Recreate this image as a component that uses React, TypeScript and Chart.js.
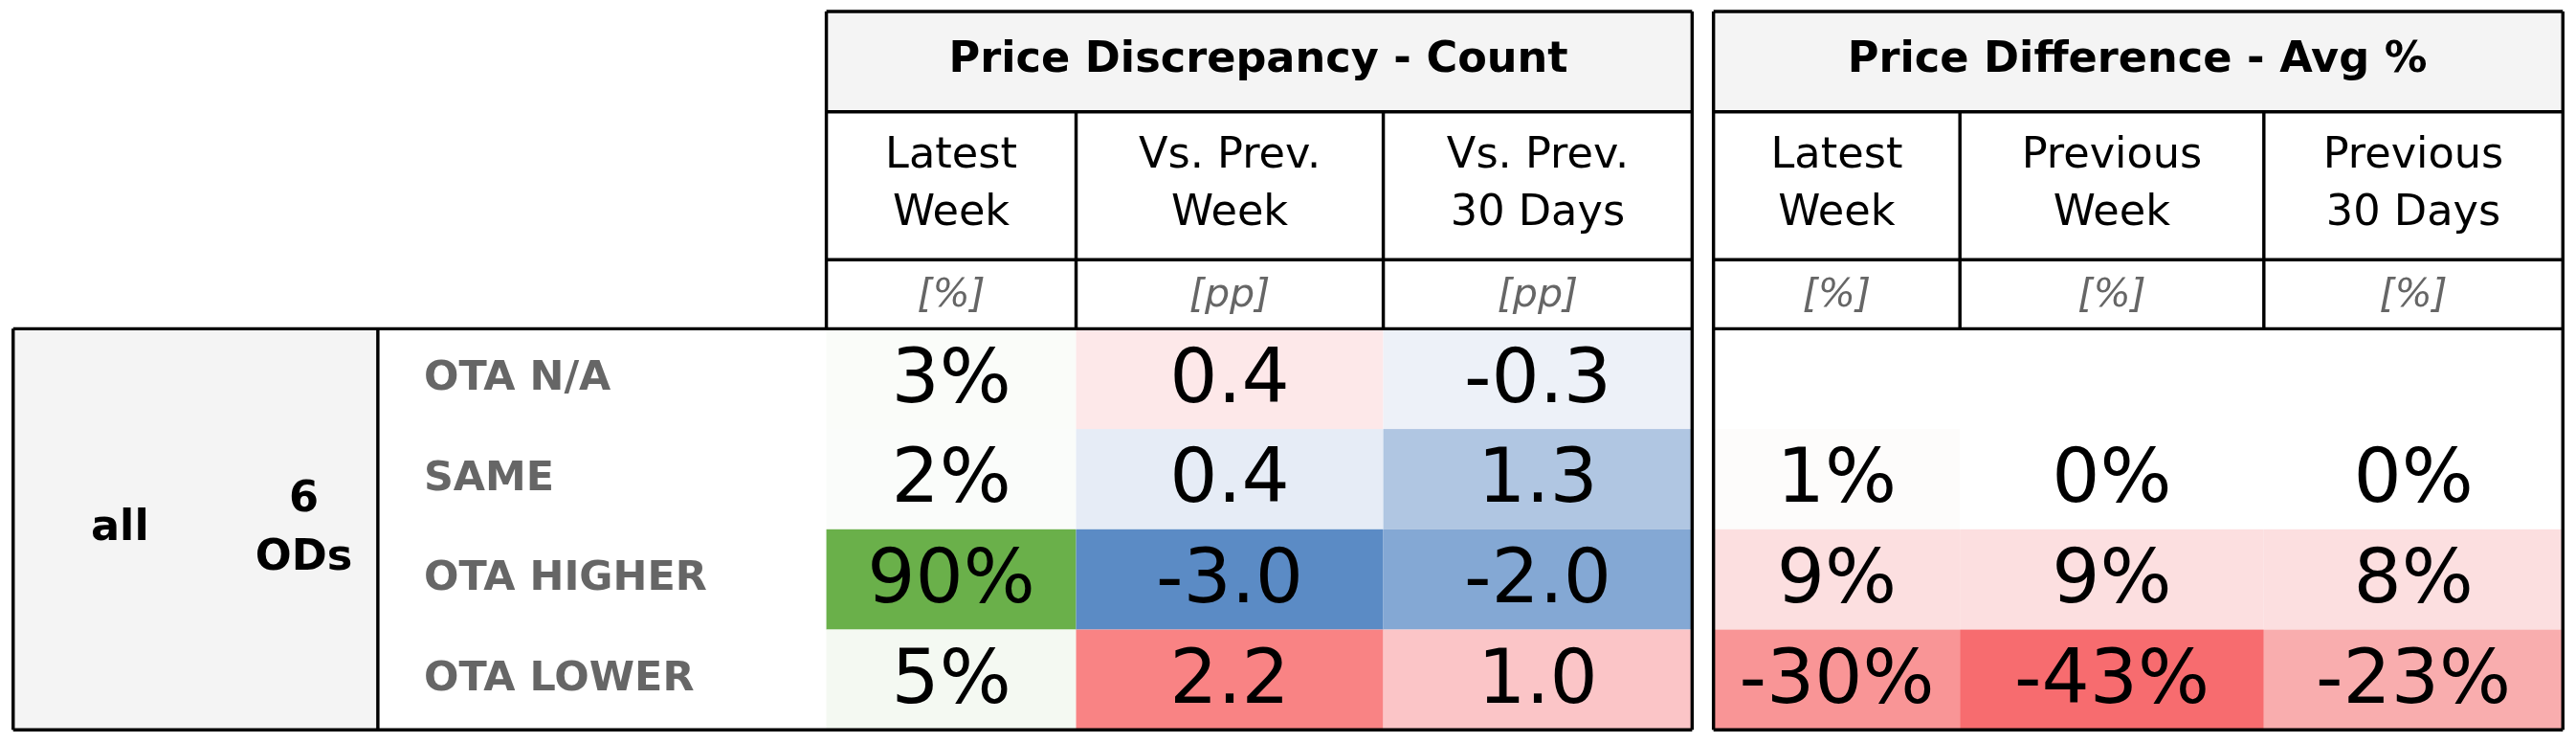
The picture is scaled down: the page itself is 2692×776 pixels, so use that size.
import { useEffect, useRef } from 'react';
import { Chart, registerables } from 'chart.js';

Chart.register(...registerables);

// data
const rowLabels = ['OTA N/A', 'SAME', 'OTA HIGHER', 'OTA LOWER'];
const countLatest = ['3%', '2%', '90%', '5%'];
const countVsPrevWeek = ['0.4', '0.4', '-3.0', '2.2'];
const countVsPrev30 = ['-0.3', '1.3', '-2.0', '1.0'];
const diffLatest = ['', '1%', '9%', '-30%'];
const diffPrevWeek = ['', '0%', '9%', '-43%'];
const diffPrev30 = ['', '0%', '8%', '-23%'];
const countHeaders = [['Latest', 'Week'], ['Vs. Prev.', 'Week'], ['Vs. Prev.', '30 Days']];
const diffHeaders = [['Latest', 'Week'], ['Previous', 'Week'], ['Previous', '30 Days']];
const countUnits = ['[%]', '[pp]', '[pp]'];
const diffUnits = ['[%]', '[%]', '[%]'];

// cell colours
const countColors = [
  ['#fafcf9', '#fafcfa', '#6ab04a', '#f4f9f2'],
  ['#fde8e9', '#e6ecf6', '#5b8bc5', '#f98384'],
  ['#edf1f8', '#b0c6e2', '#84a8d4', '#fbc5c7'],
];
const diffColors = [
  ['#ffffff', '#fdfcfb', '#fcdfe0', '#f99596'],
  ['#ffffff', '#ffffff', '#fcdfe0', '#f76c6f'],
  ['#ffffff', '#ffffff', '#fcdfe0', '#f9adae'],
];

const leftCols = [503, 655, 842, 1030];
const rightCols = [1043, 1193, 1378, 1560];
const rowEdges = [200, 261, 322, 383, 444];

const tablePlugin = {
  id: 'table',
  afterDraw(chart: any) {
    const { ctx } = chart;
    const xs = chart.scales.x;
    const ys = chart.scales.y;
    const X = (v: number) => xs.getPixelForValue(v);
    const Y = (v: number) => ys.getPixelForValue(v);
    const k = chart.width / 1568;
    const font = (size: number, weight = 'normal', style = 'normal') =>
      `${style} ${weight} ${size * k}px "DejaVu Sans", sans-serif`;
    const rect = (x0: number, y0: number, x1: number, y1: number, fill: string) => {
      ctx.fillStyle = fill;
      ctx.fillRect(X(x0), Y(y0), X(x1) - X(x0), Y(y1) - Y(y0));
    };
    const text = (s: string, x: number, y: number, f: string, color = '#000', align: CanvasTextAlign = 'center') => {
      ctx.font = f;
      ctx.fillStyle = color;
      ctx.textAlign = align;
      ctx.textBaseline = 'middle';
      ctx.fillText(s, X(x), Y(y));
    };
    const line = (x0: number, y0: number, x1: number, y1: number) => {
      ctx.strokeStyle = '#000';
      ctx.lineWidth = 2 * k;
      ctx.beginPath();
      ctx.moveTo(X(x0), Y(y0));
      ctx.lineTo(X(x1), Y(y1));
      ctx.stroke();
    };
    ctx.save();
    // header backgrounds
    rect(503, 7, 1030, 68, '#f4f4f4');
    rect(1043, 7, 1560, 68, '#f4f4f4');
    rect(8, 200, 230, 444, '#f4f4f4');

    // cells
    const drawBlock = (cols: number[], values: string[][], colors: string[][]) => {
      values.forEach((vals, c) => {
        vals.forEach((v, r) => {
          rect(cols[c], rowEdges[r], cols[c + 1], rowEdges[r + 1], colors[c][r]);
          if (v) text(v, (cols[c] + cols[c + 1]) / 2, (rowEdges[r] + rowEdges[r + 1]) / 2 + 2, font(46));
        });
      });
    };
    drawBlock(leftCols, [countLatest, countVsPrevWeek, countVsPrev30], countColors);
    drawBlock(rightCols, [diffLatest, diffPrevWeek, diffPrev30], diffColors);

    // headers
    text('Price Discrepancy - Count', 766, 37, font(26, 'bold'));
    text('Price Difference - Avg %', 1301, 37, font(26, 'bold'));
    const heads = (cols: number[], h: string[][], u: string[]) => {
      h.forEach((lines, c) => {
        const cx = (cols[c] + cols[c + 1]) / 2;
        text(lines[0], cx, 95, font(26));
        text(lines[1], cx, 130, font(26));
        text(u[c], cx, 180, font(24, 'normal', 'italic'), '#666');
      });
    };
    heads(leftCols, countHeaders, countUnits);
    heads(rightCols, diffHeaders, diffUnits);

    // row labels
    rowLabels.forEach((l, r) => text(l, 258, (rowEdges[r] + rowEdges[r + 1]) / 2, font(25, 'bold'), '#666', 'left'));
    text('all', 73, 322, font(26, 'bold'));
    text('6', 185, 304, font(26, 'bold'));
    text('ODs', 185, 340, font(26, 'bold'));

    // grid lines
    line(503, 7, 1030, 7); line(503, 68, 1030, 68); line(503, 158, 1030, 158);
    line(503, 7, 503, 200); line(1030, 7, 1030, 444);
    line(655, 68, 655, 200); line(842, 68, 842, 200);
    line(8, 200, 1030, 200); line(8, 444, 1030, 444); line(8, 200, 8, 444);
    line(230, 200, 230, 444);
    line(1043, 7, 1560, 7); line(1043, 68, 1560, 68); line(1043, 158, 1560, 158);
    line(1043, 200, 1560, 200); line(1043, 444, 1560, 444);
    line(1043, 7, 1043, 444); line(1560, 7, 1560, 444);
    line(1193, 68, 1193, 200); line(1378, 68, 1378, 200);
    ctx.restore();
  },
};

export default function App() {
  const canvasRef = useRef<HTMLCanvasElement>(null);
  const chartRef = useRef<Chart | null>(null);

  useEffect(() => {
    document.body.style.margin = '0';
    if (!canvasRef.current) return;
    chartRef.current = new Chart(canvasRef.current, {
      type: 'scatter',
      data: { datasets: [{ data: [] }] },
      options: {
        animation: false,
        responsive: true,
        maintainAspectRatio: false,
        layout: { padding: 0 },
        plugins: { legend: { display: false }, tooltip: { enabled: false } },
        scales: {
          x: { type: 'linear', min: 0, max: 1568, display: false },
          y: { type: 'linear', min: 0, max: 452, reverse: true, display: false },
        },
      },
      plugins: [tablePlugin],
    });
    return () => {
      chartRef.current?.destroy();
      chartRef.current = null;
    };
  }, []);

  return (
    <div style={{ width: 2692, height: 776, background: '#fff' }}>
      <canvas ref={canvasRef}></canvas>
    </div>
  );
}
